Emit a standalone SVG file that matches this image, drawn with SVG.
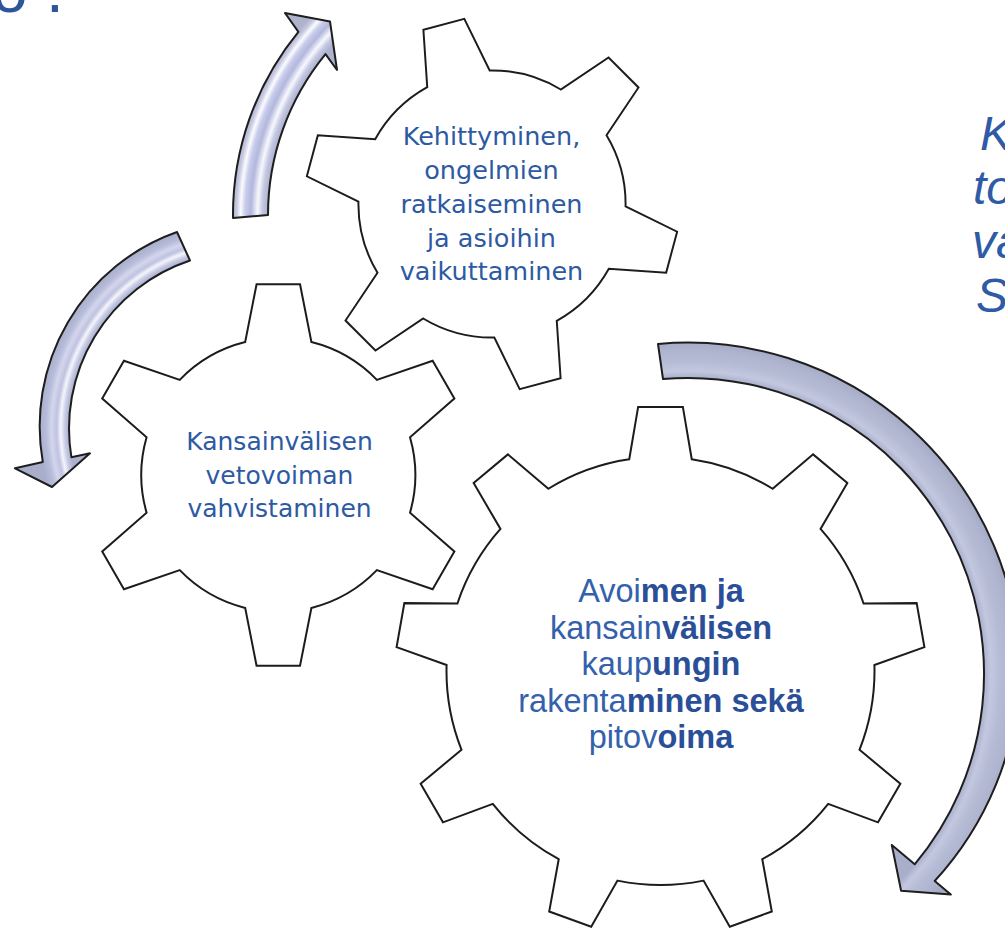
<svg xmlns="http://www.w3.org/2000/svg" width="1005" height="929" viewBox="0 0 1005 929">
<defs>
<style>
.gear{fill:#ffffff;stroke:#1c1c1c;stroke-width:2;stroke-linejoin:miter}
.arrow{stroke:#1e1e1e;stroke-width:2;stroke-linejoin:round}
.t1{font-family:"DejaVu Sans",sans-serif;font-size:25.5px;fill:#2d5aa2;text-anchor:middle}
.t2{font-family:"Liberation Sans",Arial,sans-serif;font-size:32.5px;fill:#3461ab;text-anchor:middle}
.b{font-weight:bold;fill:#2a4f98}
.side{font-family:"Liberation Sans",Arial,sans-serif;font-style:italic;font-size:48px;fill:#2f5ba6}
</style>
<path id="g6" d="M-33.14,-132.93 L-21.73,-190.77 L21.73,-190.77 L33.14,-132.93 A137,137 0 0 1 98.55,-95.17 L154.35,-114.2 L176.08,-76.55 L131.7,-37.76 A137,137 0 0 1 131.7,37.76 L176.08,76.55 L154.35,114.2 L98.55,95.17 A137,137 0 0 1 33.14,132.93 L21.73,190.77 L-21.73,190.77 L-33.14,132.93 A137,137 0 0 1 -98.55,95.17 L-154.35,114.2 L-176.08,76.55 L-131.7,37.76 A137,137 0 0 1 -131.7,-37.76 L-176.08,-76.55 L-154.35,-114.2 L-98.55,-95.17 A137,137 0 0 1 -33.14,-132.93 Z"/>
<radialGradient id="gradTop" gradientUnits="userSpaceOnUse" cx="522" cy="215" r="290" fx="522" fy="215">
<stop offset="0" stop-color="#a9aecd"/>
<stop offset="0.878" stop-color="#aeb3d0"/>
<stop offset="0.895" stop-color="#c4c8e2"/>
<stop offset="0.912" stop-color="#f7f8fd"/>
<stop offset="0.935" stop-color="#b2b7dd"/>
<stop offset="0.955" stop-color="#c9cdeb"/>
<stop offset="0.97" stop-color="#fbfbff"/>
<stop offset="0.985" stop-color="#c3c7df"/>
<stop offset="1" stop-color="#aeb2cc"/>
</radialGradient>
<radialGradient id="gradLeft" gradientUnits="userSpaceOnUse" cx="246" cy="428" r="207" fx="246" fy="428">
<stop offset="0" stop-color="#a8adcc"/>
<stop offset="0.855" stop-color="#abb0cf"/>
<stop offset="0.875" stop-color="#c5c9e3"/>
<stop offset="0.895" stop-color="#f4f5fb"/>
<stop offset="0.915" stop-color="#bfc3e0"/>
<stop offset="0.94" stop-color="#d3d6ec"/>
<stop offset="0.965" stop-color="#b7bcda"/>
<stop offset="1" stop-color="#a9aecb"/>
</radialGradient>
<radialGradient id="gradBig" gradientUnits="userSpaceOnUse" cx="688" cy="674" r="333" fx="688" fy="674">
<stop offset="0" stop-color="#a9afcb"/>
<stop offset="0.889" stop-color="#a9afcb"/>
<stop offset="0.91" stop-color="#c3c8e0"/>
<stop offset="0.94" stop-color="#b5bbd4"/>
<stop offset="0.97" stop-color="#afb5cf"/>
<stop offset="1" stop-color="#a4aac5"/>
</radialGradient>
</defs>

<rect x="0" y="0" width="1005" height="929" fill="#ffffff"/>

<g id="title-fragment">
<text x="-8" y="12" font-family="'Liberation Sans',sans-serif" font-size="64" fill="#2b579a">o<tspan x="46">.</tspan></text>
</g>

<g id="side-text" class="side">
<text x="980" y="150">K</text>
<text x="973" y="204">to</text>
<text x="972" y="258">va</text>
<text x="976" y="312">S</text>
</g>

<g id="connectors">
<path id="arrow-top" class="arrow" fill="url(#gradTop)" d="M233,218 A289,289 0 0 1 298.4,31.9 L285,13 L330,21.5 L337,70 L325.5,54.1 A254,254 0 0 0 268,215 Z"/>
<path id="arrow-left" class="arrow" fill="url(#gradLeft)" d="M177,232 A206,206 0 0 0 42.8,462 L15,468.3 L52,487 L90,453.3 L71.4,457.2 A177,177 0 0 1 190,260.5 Z"/>
<path id="arrow-big" class="arrow" fill="url(#gradBig)" d="M658,344 A332,332 0 0 1 1020,674 A325,325 0 0 1 934.7,881 L950.8,894.5 L901.1,890.8 L891.8,845 L914.7,864.3 A296,296 0 0 0 663,379 Z"/>
</g>

<g id="node-top">
<use href="#g6" class="gear" transform="translate(492,204) rotate(-15) scale(0.975)"/>
<text class="t1" x="491.5" y="145">Kehittyminen,</text>
<text class="t1" x="491.5" y="178.5">ongelmien</text>
<text class="t1" x="491.5" y="212.5">ratkaiseminen</text>
<text class="t1" x="491.5" y="246.5">ja asioihin</text>
<text class="t1" x="491.5" y="279.5">vaikuttaminen</text>
</g>

<g id="node-middle">
<use href="#g6" class="gear" transform="translate(278.3,475)"/>
<text class="t1" style="font-size:25px" x="279.5" y="450">Kansainvälisen</text>
<text class="t1" style="font-size:25px" x="279.5" y="483.5">vetovoiman</text>
<text class="t1" style="font-size:25px" x="279.5" y="517">vahvistaminen</text>
</g>

<g id="node-big">
<path class="gear" transform="translate(660.5,671)" d="M-31.26,-211.71 L-22.36,-264.05 L22.36,-264.05 L31.26,-211.71 A214,214 0 0 1 112.14,-182.26 L152.61,-216.64 L186.85,-187.91 L160.03,-142.07 A214,214 0 0 1 203.06,-67.54 L256.15,-67.87 L263.91,-23.83 L213.92,-5.97 A214,214 0 0 1 198.98,78.78 L239.85,112.65 L217.51,151.37 L167.71,132.92 A214,214 0 0 1 101.78,188.23 L111.3,240.49 L69.3,255.78 L43.04,209.63 A214,214 0 0 1 -43.04,209.63 L-69.3,255.78 L-111.3,240.49 L-101.78,188.23 A214,214 0 0 1 -167.71,132.92 L-217.51,151.37 L-239.85,112.65 L-198.98,78.78 A214,214 0 0 1 -213.92,-5.97 L-263.91,-23.83 L-256.15,-67.87 L-203.06,-67.54 A214,214 0 0 1 -160.03,-142.07 L-186.85,-187.91 L-152.61,-216.64 L-112.14,-182.26 A214,214 0 0 1 -31.26,-211.71 Z"/>
<text class="t2" x="661" y="602">Avoi<tspan class="b">men ja</tspan></text>
<text class="t2" x="661" y="638.5">kansain<tspan class="b">välisen</tspan></text>
<text class="t2" x="661" y="675">kaup<tspan class="b">ungin</tspan></text>
<text class="t2" x="661" y="711.5">rakenta<tspan class="b">minen sekä</tspan></text>
<text class="t2" x="661" y="748">pitov<tspan class="b">oima</tspan></text>
</g>
</svg>
